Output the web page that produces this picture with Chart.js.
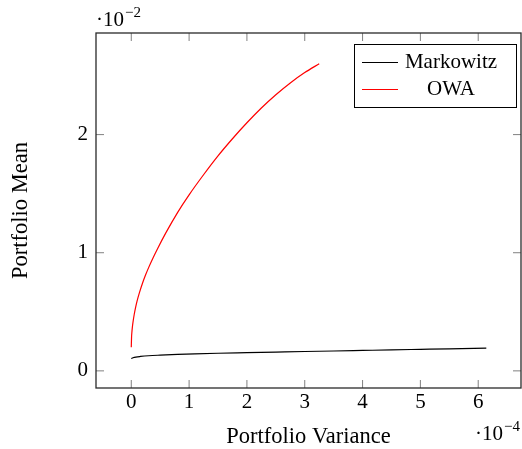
<!DOCTYPE html>
<html><head><meta charset="utf-8">
<script src="https://cdn.jsdelivr.net/npm/chart.js@4/dist/chart.umd.min.js"></script>
<style>html,body{margin:0;padding:0;background:#fff;}</style>
</head><body>
<canvas id="c" width="522" height="449"></canvas>
<script>
// ---- data (variance in units of 1e-4, mean in units of 1e-2) ----
const markowitzVar  = [0, 0.03, 0.08, 0.16, 0.3, 0.5, 0.8, 1.1, 1.5, 2.0, 2.5, 3.0, 3.5, 4.0, 4.5, 5.0, 5.5, 6.14];
const markowitzMean = [0.105, 0.111, 0.117, 0.122, 0.128, 0.133, 0.139, 0.144, 0.149, 0.154, 0.159, 0.164, 0.168, 0.173, 0.178, 0.182, 0.186, 0.192];
const owaVar  = [0, 0.005, 0.01, 0.02, 0.03, 0.05, 0.075, 0.1, 0.14, 0.2, 0.25, 0.3, 0.38, 0.45, 0.6, 0.8, 1.0, 1.25, 1.5, 1.75, 2.0, 2.25, 2.5, 2.75, 3.0, 3.25];
const owaMean = [0.20, 0.287, 0.323, 0.374, 0.413, 0.475, 0.537, 0.59, 0.66, 0.75, 0.815, 0.874, 0.96, 1.03, 1.17, 1.34, 1.49, 1.66, 1.82, 1.965, 2.10, 2.225, 2.3375, 2.4375, 2.525, 2.60];
const xTicks = [0, 1, 2, 3, 4, 5, 6];
const yTicks = [0, 1, 2];
const seriesLabels = ['Markowitz', 'OWA'];
const seriesColors = ['#000000', '#ff0000'];
const xTitle = 'Portfolio Variance';
const yTitle = 'Portfolio Mean';
const xExponent = '\u22124';
const yExponent = '\u22122';

const FONT = "'Liberation Serif', 'Times New Roman', serif";

function toPoints(xs, ys) { return xs.map((x, i) => ({x: x, y: ys[i]})); }

const framePlugin = {
  id: 'frame',
  afterDraw(chart) {
    const ctx = chart.ctx, a = chart.chartArea;
    const xs = chart.scales.x, ys = chart.scales.y;
    ctx.save();
    // ticks (inward, all four sides)
    ctx.strokeStyle = '#808080';
    ctx.lineWidth = 1;
    const tl = 8;
    ctx.beginPath();
    xTicks.forEach(v => {
      const p = xs.getPixelForValue(v);
      ctx.moveTo(p, a.bottom); ctx.lineTo(p, a.bottom - tl);
      ctx.moveTo(p, a.top); ctx.lineTo(p, a.top + tl);
    });
    yTicks.forEach(v => {
      const p = ys.getPixelForValue(v);
      ctx.moveTo(a.left, p); ctx.lineTo(a.left + tl, p);
      ctx.moveTo(a.right, p); ctx.lineTo(a.right - tl, p);
    });
    ctx.stroke();
    // box
    ctx.strokeStyle = '#2a2a2a';
    ctx.lineWidth = 1.3;
    ctx.strokeRect(a.left, a.top, a.right - a.left, a.bottom - a.top);

    // exponent labels
    ctx.fillStyle = '#000';
    ctx.textBaseline = 'alphabetic';
    ctx.textAlign = 'left';
    function expLabel(x, y, sup) {
      ctx.font = '21px ' + FONT;
      ctx.fillText('\u00b710', x, y);
      const w = ctx.measureText('\u00b710').width;
      ctx.font = '15px ' + FONT;
      ctx.fillText(sup, x + w + 1, y - 9);
    }
    expLabel(a.left + 0, a.top - 7, yExponent);
    expLabel(a.right - 46, a.bottom + 52, xExponent);

    // legend
    const lw = 162, lh = 63;
    const lx = a.right - 5 - lw, ly = a.top + 11;
    ctx.fillStyle = '#fff';
    ctx.fillRect(lx, ly, lw, lh);
    ctx.strokeStyle = '#000';
    ctx.lineWidth = 1;
    ctx.strokeRect(lx + 0.5, ly + 0.5, lw, lh);
    chart.data.datasets.forEach((ds, i) => {
      const yy = ly + 18.5 + i * 27;
      ctx.strokeStyle = ds.borderColor;
      ctx.lineWidth = 1.2;
      ctx.beginPath();
      ctx.moveTo(lx + 8, yy); ctx.lineTo(lx + 44, yy);
      ctx.stroke();
      ctx.fillStyle = '#000';
      ctx.font = '21px ' + FONT;
      ctx.textAlign = 'center';
      ctx.fillText(ds.label, lx + 97, ly + 24 + i * 27);
    });
    ctx.restore();
  }
};

new Chart(document.getElementById('c').getContext('2d'), {
  type: 'line',
  data: {
    datasets: [
      {label: seriesLabels[0], data: toPoints(markowitzVar, markowitzMean), borderColor: seriesColors[0],
       borderWidth: 1.2, pointRadius: 0, fill: false, cubicInterpolationMode: 'monotone'},
      {label: seriesLabels[1], data: toPoints(owaVar, owaMean), borderColor: seriesColors[1],
       borderWidth: 1.2, pointRadius: 0, fill: false, cubicInterpolationMode: 'monotone'}
    ]
  },
  options: {
    responsive: false,
    animation: false,
    devicePixelRatio: 1,
    layout: {padding: {top: 33, right: 1, left: 0, bottom: 0}},
    plugins: {legend: {display: false}, tooltip: {enabled: false}},
    scales: {
      x: {
        type: 'linear', min: -0.61, max: 6.74,
        afterBuildTicks: s => { s.ticks = xTicks.map(v => ({value: v})); },
        afterFit: s => { s.height = 61; },
        grid: {display: false, drawTicks: false},
        border: {display: false},
        ticks: {padding: 2, color: '#000', font: {family: FONT, size: 21}, maxRotation: 0,
                callback: v => String(v)},
        title: {display: true, text: xTitle, color: '#000', font: {family: FONT, size: 22.5},
                padding: {top: 0, bottom: -1.5}}
      },
      y: {
        type: 'linear', min: -0.145, max: 2.86,
        afterBuildTicks: s => { s.ticks = yTicks.map(v => ({value: v})); },
        afterFit: s => { s.width = 96; },
        grid: {display: false, drawTicks: false},
        border: {display: false},
        ticks: {padding: 8, color: '#000', font: {family: FONT, size: 21}, callback: v => String(v)},
        title: {display: true, text: yTitle, color: '#000', font: {family: FONT, size: 22.5},
                padding: {top: 8, bottom: 0}}
      }
    }
  },
  plugins: [framePlugin]
});
</script>
</body></html>
